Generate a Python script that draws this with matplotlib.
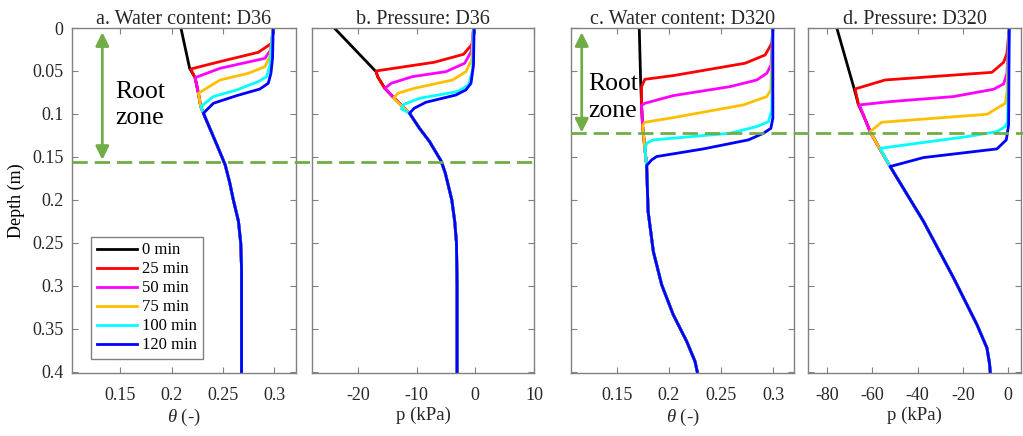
import numpy as np
import matplotlib
matplotlib.use("Agg")
import matplotlib.pyplot as plt
from matplotlib.lines import Line2D
from matplotlib.transforms import blended_transform_factory

plt.rcParams['font.family'] = ['Liberation Serif', 'DejaVu Serif']
plt.rcParams['mathtext.fontset'] = 'custom'
plt.rcParams['mathtext.it'] = 'Liberation Serif:italic'
plt.rcParams['mathtext.rm'] = 'Liberation Serif'
plt.rcParams['axes.unicode_minus'] = False

# legend entries (time after start, min)
times = [0, 25, 50, 75, 100, 120]
labels = ['0 min', '25 min', '50 min', '75 min', '100 min', '120 min']
colors = ['#000000', '#ff0000', '#ff00ff', '#ffbf00', '#00ffff', '#0000ff']

# a. water content D36 (depth m, theta -)
a_depth = {
    0: [0, 0.047, 0.0578, 0.076, 0.0915, 0.0992],
    25: [0, 0.0178, 0.0283, 0.0391, 0.0477, 0.0578, 0.076, 0.0915, 0.0992],
    50: [0, 0.0256, 0.0353, 0.0469, 0.0578, 0.076, 0.0915, 0.0992],
    75: [0, 0.0333, 0.045, 0.0527, 0.0605, 0.076, 0.0915, 0.0992],
    100: [0, 0.043, 0.0566, 0.0624, 0.0721, 0.0798, 0.0915, 0.0992],
    120: [0, 0.035, 0.0527, 0.0643, 0.071, 0.0787, 0.0876, 0.0992],
}
a_theta = {
    0: [0.209, 0.2175, 0.2228, 0.226, 0.2283, 0.2309],
    25: [0.2988, 0.2973, 0.2843, 0.2471, 0.2186, 0.2228, 0.226, 0.2283, 0.2309],
    50: [0.2988, 0.2962, 0.2908, 0.2471, 0.2228, 0.226, 0.2283, 0.2309],
    75: [0.2988, 0.2956, 0.2908, 0.2746, 0.2471, 0.226, 0.2283, 0.2309],
    100: [0.2988, 0.2956, 0.2924, 0.2843, 0.2633, 0.2406, 0.2283, 0.2309],
    120: [0.2988, 0.2982, 0.2966, 0.294, 0.2859, 0.2633, 0.2406, 0.2309],
}
a_deep_depth = [0.113, 0.136, 0.159, 0.18, 0.2, 0.225, 0.25, 0.28, 0.32, 0.402]
a_deep_theta = [0.2358, 0.244, 0.252, 0.2565, 0.26, 0.265, 0.2672, 0.268, 0.268, 0.268]

# b. pressure D36 (depth m, p kPa)
b_depth = {
    0: [0, 0.0508, 0.0569, 0.0702, 0.0837, 0.0992],
    25: [0, 0.018, 0.0306, 0.0399, 0.05, 0.0569, 0.0702, 0.0837, 0.0992],
    50: [0, 0.0275, 0.041, 0.0508, 0.0566, 0.0643, 0.0702, 0.0837, 0.0992],
    75: [0, 0.0372, 0.0508, 0.0605, 0.0702, 0.076, 0.0818, 0.0992],
    100: [0, 0.0488, 0.0663, 0.074, 0.0818, 0.0887, 0.094, 0.0992],
    120: [0, 0.043, 0.0643, 0.072, 0.078, 0.0864, 0.0934, 0.0992],
}
b_press = {
    0: [-24.0, -16.9, -16.6, -15.4, -13.5, -11.2],
    25: [-0.3, -0.45, -2.0, -7.0, -16.9, -16.6, -15.4, -13.5, -11.2],
    50: [-0.3, -0.7, -1.8, -5.0, -10.7, -14.3, -15.4, -13.5, -11.2],
    75: [-0.3, -0.6, -1.6, -3.85, -10.4, -13.2, -13.9, -11.2],
    100: [-0.3, -0.45, -1.13, -3.0, -9.5, -12.1, -12.6, -11.2],
    120: [-0.2, -0.3, -0.73, -1.59, -3.3, -8.4, -10.4, -11.2],
}
b_deep_depth = [0.1167, 0.132, 0.155, 0.169, 0.2, 0.225, 0.25, 0.3, 0.402]
b_deep_press = [-9.5, -7.8, -5.8, -5.1, -4.0, -3.5, -3.2, -3.1, -3.1]

# c. water content D320
c_depth = {
    0: [0, 0.0605, 0.09, 0.1136, 0.1407, 0.16],
    25: [0, 0.0178, 0.0314, 0.041, 0.0554, 0.0597, 0.0682, 0.09, 0.1136, 0.1407, 0.16],
    50: [0, 0.043, 0.0527, 0.0605, 0.0682, 0.0787, 0.0876, 0.0903, 0.1136, 0.1407, 0.16],
    75: [0, 0.072, 0.0798, 0.0895, 0.1043, 0.1097, 0.1136, 0.1407, 0.16],
    100: [0, 0.0953, 0.109, 0.1147, 0.1225, 0.1302, 0.1341, 0.1407, 0.16],
    120: [0, 0.105, 0.1167, 0.1225, 0.1302, 0.1407, 0.1496, 0.1535, 0.16],
}
c_theta = {
    0: [0.1715, 0.1728, 0.1737, 0.1747, 0.1769, 0.1786],
    25: [0.2997, 0.2987, 0.2923, 0.2731, 0.2041, 0.1769, 0.1737, 0.1737, 0.1747, 0.1769, 0.1786],
    50: [0.2997, 0.298, 0.2939, 0.2843, 0.2587, 0.2041, 0.1769, 0.1737, 0.1747, 0.1769, 0.1786],
    75: [0.2997, 0.2978, 0.2939, 0.2714, 0.2041, 0.1769, 0.1747, 0.1769, 0.1786],
    100: [0.2997, 0.2987, 0.2955, 0.2843, 0.2587, 0.1849, 0.1786, 0.1769, 0.1786],
    120: [0.2997, 0.2997, 0.2978, 0.2907, 0.2763, 0.233, 0.1882, 0.1834, 0.1786],
}
c_deep_depth = [0.2136, 0.26, 0.2988, 0.3337, 0.3647, 0.388, 0.402]
c_deep_theta = [0.18, 0.185, 0.193, 0.2041, 0.217, 0.225, 0.2275]

# d. pressure D320
d_depth = {
    0: [0, 0.0702, 0.0888, 0.1012, 0.1206, 0.14, 0.1612],
    25: [0, 0.0295, 0.0399, 0.0516, 0.0605, 0.0709, 0.0888, 0.1012, 0.1206, 0.14, 0.1612],
    50: [0, 0.0527, 0.0651, 0.0713, 0.0798, 0.0857, 0.0895, 0.1012, 0.1206, 0.14, 0.1612],
    75: [0, 0.074, 0.0876, 0.1004, 0.1097, 0.1206, 0.14, 0.1612],
    100: [0, 0.109, 0.1147, 0.1206, 0.1264, 0.14, 0.1612],
    120: [0, 0.1128, 0.1302, 0.1407, 0.1508, 0.1612],
}
d_press = {
    0: [-75.6, -68.0, -66.1, -63.9, -60.9, -56.8, -52.1],
    25: [0.4, -0.59, -2.06, -7.2, -54.3, -67.5, -66.1, -63.9, -60.9, -56.8, -52.1],
    50: [0.4, -0.6, -2.06, -6.5, -24.1, -52.1, -65.6, -63.9, -60.9, -56.8, -52.1],
    75: [0.4, -0.6, -1.3, -9.4, -55.8, -60.9, -56.8, -52.1],
    100: [0.4, -0.3, -1.3, -5.0, -18.2, -56.5, -52.1],
    120: [0.4, 0.15, -0.88, -5.0, -37.4, -52.1],
}
d_deep_depth = [0.225, 0.291, 0.3453, 0.3725, 0.39, 0.402]
d_deep_press = [-37.4, -24.1, -13.8, -9.4, -8.3, -7.9]

root_zone_36 = 0.1564
root_zone_320 = 0.1225

panels = [
    (a_depth, a_theta, a_deep_depth, a_deep_theta, 'a. Water content: D36', r'$\theta$ (-)',
     (0.103, 0.321), [0.15, 0.2, 0.25, 0.3], ['0.15', '0.2', '0.25', '0.3']),
    (b_depth, b_press, b_deep_depth, b_deep_press, 'b. Pressure: D36', 'p (kPa)',
     (-27.8, 10), [-20, -10, 0, 10], ['-20', '-10', '0', '10']),
    (c_depth, c_theta, c_deep_depth, c_deep_theta, 'c. Water content: D320', r'$\theta$ (-)',
     (0.106, 0.32), [0.15, 0.2, 0.25, 0.3], ['0.15', '0.2', '0.25', '0.3']),
    (d_depth, d_press, d_deep_depth, d_deep_press, 'd. Pressure: D320', 'p (kPa)',
     (-88.3, 5.6), [-80, -60, -40, -20, 0], ['-80', '-60', '-40', '-20', '0']),
]

W, H = 1023, 436
boxes = [(72, 296), (312, 534), (571, 794), (808, 1021)]
top_px, bot_px = 28, 373
green = '#70ad47'
grey = '#808080'

fig = plt.figure(figsize=(W / 100, H / 100), dpi=100)
axes = []
for i, (dep, val, ddep, dval, title, xlab, xlim, xt, xtl) in enumerate(panels):
    l, r = boxes[i]
    ax = fig.add_axes([l / W, (H - bot_px) / H, (r - l) / W, (bot_px - top_px) / H])
    for t, c, lab in zip(times, colors, labels):
        z = list(dep[t]) + ddep
        v = list(val[t]) + dval
        ax.plot(v, z, color=c, lw=2.0, label=lab)
    ax.set_xlim(*xlim)
    ax.set_ylim(0.4015, 0)
    ax.set_xticks(xt)
    ax.set_xticklabels(xtl)
    ax.set_yticks(np.arange(0, 0.41, 0.05))
    if i == 0:
        ax.set_yticklabels(['0', '0.05', '0.1', '0.15', '0.2', '0.25', '0.3', '0.35', '0.4'])
        ax.set_ylabel('Depth (m)', fontsize=13)
        ax.yaxis.set_label_coords(-0.21, 0.5)
    else:
        ax.set_yticklabels([])
    ax.tick_params(direction='in', top=True, right=True, length=4, width=0.8,
                   color=grey, labelsize=13, labelcolor='#262626')
    ax.tick_params(axis='x', pad=10)
    ax.tick_params(axis='y', pad=6)
    for s in ax.spines.values():
        s.set_color(grey)
        s.set_linewidth(1.0)
    ax.set_title(title, fontsize=14.5, pad=3, color='#262626')
    ax.set_xlabel(xlab, fontsize=13.5, labelpad=2, color='#262626')
    axes.append(ax)

ax_a, ax_b, ax_c, ax_d = axes

leg = ax_a.legend(loc='lower left', bbox_to_anchor=(0.085, 0.04), fontsize=12,
                  handlelength=2.4, handletextpad=0.3, labelspacing=0.18,
                  borderpad=0.35, borderaxespad=0, fancybox=False, framealpha=1)
leg.get_frame().set_edgecolor(grey)
leg.get_frame().set_linewidth(1.0)

# root zone boundary: dashed line across each pair of panels
tr_ab = blended_transform_factory(fig.transFigure, ax_a.transData)
fig.add_artist(Line2D([72 / W, 534 / W], [root_zone_36, root_zone_36], transform=tr_ab,
                      color=green, lw=2.0, dashes=(5.5, 2.5)))
tr_cd = blended_transform_factory(fig.transFigure, ax_c.transData)
fig.add_artist(Line2D([571 / W, 1.0], [root_zone_320, root_zone_320], transform=tr_cd,
                      color=green, lw=2.0, dashes=(5.5, 2.5)))

# arrows + text
ax_a.annotate('', xy=(0.1325, 0.005), xytext=(0.1325, root_zone_36 - 0.003),
              arrowprops=dict(arrowstyle='<|-|>', color=green, lw=2, mutation_scale=20,
                              shrinkA=0, shrinkB=0))
ax_a.text(0.145, 0.0895, 'Root\nzone', fontsize=18.5, va='center', ha='left', linespacing=1.25)
ax_c.annotate('', xy=(0.1163, 0.005), xytext=(0.1163, root_zone_320 - 0.001),
              arrowprops=dict(arrowstyle='<|-|>', color=green, lw=2, mutation_scale=20,
                              shrinkA=0, shrinkB=0))
ax_c.text(0.123, 0.081, 'Root\nzone', fontsize=18.5, va='center', ha='left', linespacing=1.25)

plt.savefig('out.png', dpi=100)
